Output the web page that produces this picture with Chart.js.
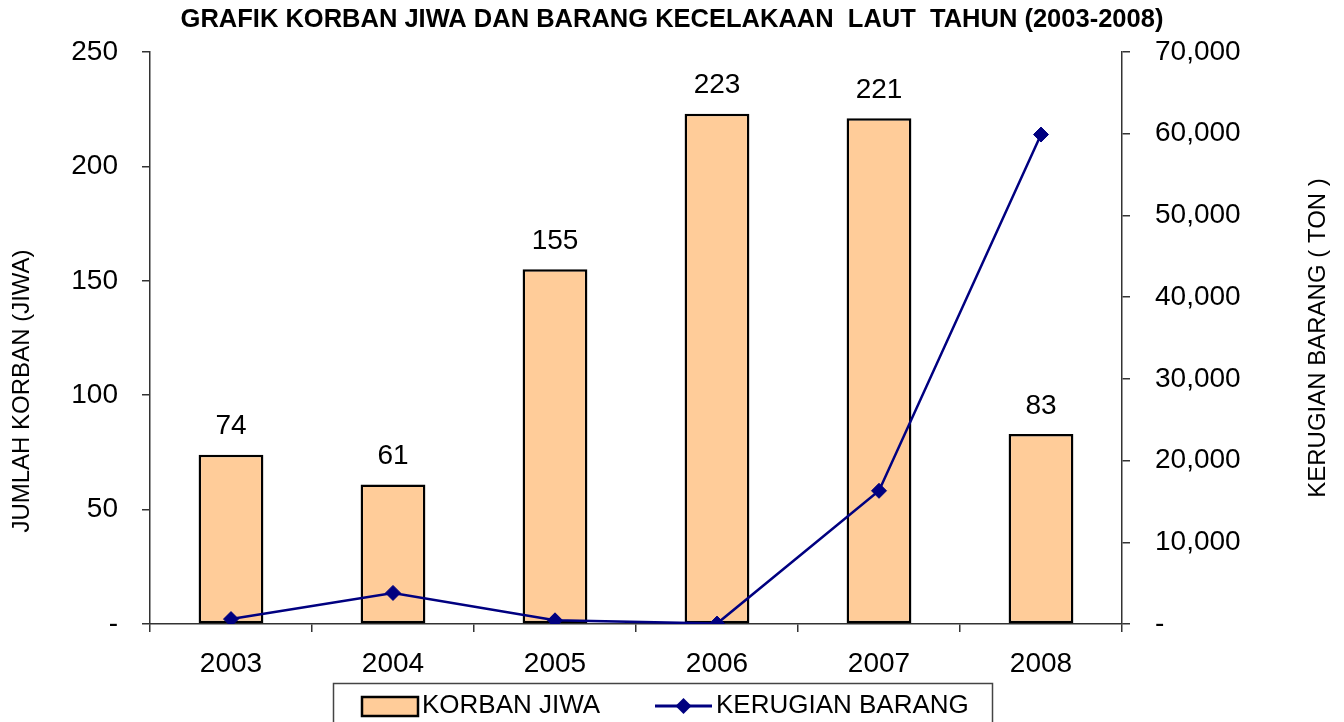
<!DOCTYPE html>
<html>
<head>
<meta charset="utf-8">
<script src="https://cdn.jsdelivr.net/npm/chart.js@4.4.1/dist/chart.umd.min.js"></script>
<style>
  html, body { margin: 0; padding: 0; background: #fff; }
  #wrap { width: 1344px; height: 722px; }
</style>
</head>
<body>
<div id="wrap"><canvas id="chart" width="1344" height="722"></canvas></div>
<script>
// data
const years = ['2003', '2004', '2005', '2006', '2007', '2008'];
const korbanJiwa = [74, 61, 155, 223, 221, 83];          // jiwa
const kerugianBarang = [600, 3800, 450, 50, 16300, 59900]; // ton
const leftTicks = [0, 50, 100, 150, 200, 250];
const rightTicks = [0, 10000, 20000, 30000, 40000, 50000, 60000, 70000];

const FONT = "'Liberation Sans', Arial, sans-serif";
const BAR_FILL = '#FFCC99';
const LINE_COLOR = '#000080';
const AXIS_COLOR = '#333';

// angka di atas batang
const barLabels = {
    id: 'barLabels',
    afterDatasetsDraw(chart) {
        const ctx = chart.ctx;
        const meta = chart.getDatasetMeta(0);
        ctx.save();
        ctx.font = '28px ' + FONT;
        ctx.fillStyle = '#000';
        ctx.textAlign = 'center';
        ctx.textBaseline = 'middle';
        meta.data.forEach((bar, i) => {
            ctx.fillText(String(korbanJiwa[i]), bar.x, bar.y - 28);
        });
        ctx.restore();
    }
};

// judul sumbu (dua-duanya dibaca dari bawah ke atas)
const axisTitles = {
    id: 'axisTitles',
    afterDraw(chart) {
        const ctx = chart.ctx;
        const area = chart.chartArea;
        ctx.save();
        ctx.font = '24px ' + FONT;
        ctx.fillStyle = '#000';
        ctx.textAlign = 'center';
        ctx.textBaseline = 'middle';

        ctx.save();
        ctx.translate(22, 391);
        ctx.rotate(-Math.PI / 2);
        ctx.fillText('JUMLAH KORBAN (JIWA)', 0, 0);
        ctx.restore();

        ctx.save();
        ctx.translate(1318, (area.top + area.bottom) / 2);
        ctx.rotate(-Math.PI / 2);
        ctx.fillText('KERUGIAN BARANG ( TON )', 0, 0);
        ctx.restore();
        ctx.restore();
    }
};

// legenda dengan kotak seperti Excel
const boxLegend = {
    id: 'boxLegend',
    afterDraw(chart) {
        const ctx = chart.ctx;
        const ds = chart.data.datasets;
        const y = 706;
        ctx.save();
        ctx.strokeStyle = '#444';
        ctx.lineWidth = 1.5;
        ctx.strokeRect(333.5, 683.5, 659, 60);

        // batang
        ctx.fillStyle = ds[0].backgroundColor;
        ctx.fillRect(362, 697, 56, 19);
        ctx.strokeStyle = ds[0].borderColor;
        ctx.lineWidth = 2.5;
        ctx.strokeRect(362, 697, 56, 19);

        // garis + belah ketupat
        ctx.strokeStyle = ds[1].borderColor;
        ctx.lineWidth = 3;
        ctx.beginPath();
        ctx.moveTo(655, y);
        ctx.lineTo(712, y);
        ctx.stroke();
        ctx.fillStyle = ds[1].pointBackgroundColor;
        ctx.beginPath();
        ctx.moveTo(683.5, y - 8);
        ctx.lineTo(691.5, y);
        ctx.lineTo(683.5, y + 8);
        ctx.lineTo(675.5, y);
        ctx.closePath();
        ctx.fill();

        ctx.font = '26px ' + FONT;
        ctx.fillStyle = '#000';
        ctx.textAlign = 'left';
        ctx.textBaseline = 'middle';
        ctx.fillText(ds[0].label, 422, y);
        ctx.fillText(ds[1].label, 716, y);
        ctx.restore();
    }
};

function fmtRight(v) {
    return v === 0 ? '-' : v.toLocaleString('en-US');
}

new Chart(document.getElementById('chart'), {
    type: 'bar',
    data: {
        labels: years,
        datasets: [{
            type: 'bar',
            label: 'KORBAN JIWA',
            data: korbanJiwa,
            yAxisID: 'y',
            backgroundColor: BAR_FILL,
            borderColor: '#000',
            borderWidth: 2.5,
            borderSkipped: false,
            categoryPercentage: 1,
            barPercentage: 0.4,
            order: 1
        }, {
            type: 'line',
            label: 'KERUGIAN BARANG',
            data: kerugianBarang,
            yAxisID: 'y1',
            borderColor: LINE_COLOR,
            borderWidth: 2.5,
            pointStyle: 'rectRot',
            pointRadius: 7.5,
            pointBackgroundColor: LINE_COLOR,
            pointBorderColor: LINE_COLOR,
            pointBorderWidth: 1,
            tension: 0,
            order: 0
        }]
    },
    options: {
        responsive: false,
        animation: false,
        layout: { padding: { left: 0, right: 0, top: 0, bottom: 39 } },
        plugins: {
            legend: { display: false },
            tooltip: { enabled: false },
            title: {
                display: true,
                text: 'GRAFIK KORBAN JIWA DAN BARANG KECELAKAAN  LAUT  TAHUN (2003-2008)',
                color: '#000',
                font: { family: FONT, size: 25.5, weight: 'bold', lineHeight: 1.2 },
                padding: { top: 5, bottom: 16.4 }
            }
        },
        scales: {
            x: {
                grid: { drawOnChartArea: false, offset: true, tickLength: 8, color: AXIS_COLOR, lineWidth: 1.5 },
                border: { display: true, color: AXIS_COLOR, width: 1.5 },
                ticks: { color: '#000', font: { family: FONT, size: 28 }, padding: 15, maxRotation: 0 },
                afterFit(scale) { scale.height = 59; }
            },
            y: {
                position: 'left',
                min: 0,
                max: 250,
                afterBuildTicks(scale) { scale.ticks = leftTicks.map(v => ({ value: v })); },
                grid: { drawOnChartArea: false, tickLength: 8, color: AXIS_COLOR, lineWidth: 1.5 },
                border: { display: true, color: AXIS_COLOR, width: 1.5 },
                ticks: {
                    color: '#000',
                    font: { family: FONT, size: 28 },
                    padding: 24,
                    callback: v => v === 0 ? '-' : String(v)
                },
                afterFit(scale) { scale.width = 150; }
            },
            y1: {
                position: 'right',
                min: 0,
                max: 70000,
                afterBuildTicks(scale) { scale.ticks = rightTicks.map(v => ({ value: v })); },
                grid: { drawOnChartArea: false, tickLength: 8, color: AXIS_COLOR, lineWidth: 1.5 },
                border: { display: true, color: AXIS_COLOR, width: 1.5 },
                ticks: {
                    color: '#000',
                    font: { family: FONT, size: 28 },
                    padding: 25,
                    callback: fmtRight
                },
                afterFit(scale) { scale.width = 222; }
            }
        }
    },
    plugins: [barLabels, axisTitles, boxLegend]
});
</script>
</body>
</html>
